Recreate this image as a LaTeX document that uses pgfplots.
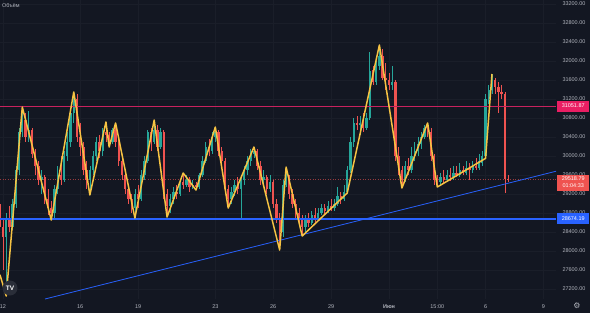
\documentclass[border=0pt]{standalone}
\usepackage{pgfplots}
\pgfplotsset{compat=1.18}
\usepackage{pgfplotstable}
\usepackage{fontspec}
\setmainfont{Liberation Sans}
\newfontfamily\symfont{DejaVu Sans}
\definecolor{bg}{HTML}{131722}
\definecolor{upc}{HTML}{26A69A}
\definecolor{dnc}{HTML}{EF5350}
\definecolor{zz}{HTML}{F6C343}
\definecolor{resl}{HTML}{C8225E}
\definecolor{resbox}{HTML}{E91E63}
\definecolor{bluel}{HTML}{2962FF}
\definecolor{tickc}{HTML}{B2B5BE}
\definecolor{gridc}{HTML}{1A1E29}
\definecolor{logoc}{HTML}{2A2E39}

\pgfplotstableread{
i o h l c
-1 29000 29150 28400 28500
0 28500 28700 27600 28300
1 28300 28800 27053 28700
2 28700 28950 28400 28500
3 28500 29100 28450 29000
4 29000 29800 28900 29700
5 29700 30600 29600 30500
6 30500 31031 30400 30750
7 30750 30900 30300 30400
8 30400 30950 30300 30550
9 30550 30600 29950 30050
10 30050 30150 29600 29800
11 29800 29900 29400 29500
12 29500 29700 29200 29550
13 29550 29600 29000 29100
14 29100 29300 28750 28900
15 28900 29050 28653 28800
16 28800 29400 28700 29300
17 29300 29800 29200 29600
18 29600 30000 29400 29500
19 29500 30100 29450 30000
20 30000 30500 29900 30300
21 30300 31000 30200 30900
22 30900 31347 30700 31200
23 31200 31300 30300 30400
24 30400 30700 30000 30200
25 30200 30300 29600 29700
26 29700 29900 29300 29500
27 29500 29800 29179 29700
28 29700 30100 29600 30000
29 30000 30400 29900 30300
30 30300 30450 29950 30100
31 30100 30600 30000 30500
32 30500 30716 30300 30450
33 30450 30500 30189 30300
34 30300 30600 30250 30550
35 30550 30695 30200 30300
36 30300 30350 29800 29900
37 29900 30000 29500 29600
38 29600 29700 29200 29300
39 29300 29400 29000 29100
40 29100 29200 28800 28900
41 28900 29300 28695 29200
42 29200 29400 28900 29100
43 29100 29700 29050 29600
44 29600 30000 29500 29900
45 29900 30550 29850 30500
46 30500 30600 30100 30300
47 30300 30758 30250 30550
48 30550 30650 30100 30200
49 30200 30600 30150 30500
50 30500 30550 29100 29200
51 29200 29300 28716 28950
52 28950 29200 28800 29100
53 29100 29350 29000 29250
54 29250 29400 29100 29200
55 29200 29500 29150 29450
56 29450 29642 29300 29400
57 29400 29600 29350 29500
58 29500 29550 29250 29350
59 29350 29500 29300 29400
60 29400 29450 29284 29350
61 29350 29650 29300 29600
62 29600 30000 29550 29900
63 29900 30300 29850 30200
64 30200 30350 30000 30100
65 30100 30500 30050 30400
66 30400 30610 30300 30500
67 30500 30550 30000 30100
68 30100 30200 29800 29900
69 29900 29950 29200 29300
70 29300 29400 28905 29100
71 29100 29350 29000 29250
72 29250 29500 29150 29400
73 29400 29550 29200 29300
74 29300 29600 28700 29500
75 29500 29800 29400 29700
76 29700 30000 29600 29900
77 29900 30150 29800 30050
78 30050 30189 29950 30100
79 30100 30150 29700 29800
80 29800 29900 29400 29500
81 29500 29700 29400 29550
82 29550 29600 29200 29300
83 29300 29600 29250 29450
84 29450 29500 28900 29000
85 29000 29100 28600 28700
86 28700 28800 28021 28400
87 28400 29500 28300 29400
88 29400 29768 29350 29500
89 29500 29600 29100 29200
90 29200 29300 28900 29000
91 29000 29100 28700 28800
92 28800 28900 28550 28650
93 28650 28750 28316 28500
94 28500 28750 28400 28650
95 28650 28800 28500 28600
96 28600 28850 28550 28750
97 28750 28900 28600 28700
98 28700 28900 28650 28800
99 28800 29000 28750 28900
100 28900 29000 28750 28850
101 28850 29050 28800 28950
102 28950 29100 28850 28900
103 28900 29100 28850 29000
104 29000 29350 28950 29150
105 29150 29250 29000 29100
106 29100 29400 29050 29250
107 29250 29800 29221 29700
108 29700 30400 29650 30300
109 30300 30800 30200 30700
110 30700 30850 30550 30650
111 30650 30850 30450 30700
112 30700 30905 30500 30600
113 30600 30900 30550 30800
114 30800 32190 30750 31800
115 31800 31900 31500 31550
116 31550 32000 31500 31900
117 31900 32337 31800 32100
118 32100 32250 31600 31650
119 31650 31950 31400 31600
120 31600 31750 31400 31500
121 31500 31900 31400 31550
122 31550 31600 29900 30000
123 30000 30200 29600 29700
124 29700 29800 29326 29500
125 29500 29900 29450 29800
126 29800 29950 29600 29700
127 29700 30200 29650 30000
128 30000 30300 29900 30100
129 30100 30400 30000 30250
130 30250 30500 30150 30400
131 30400 30650 30350 30600
132 30600 30695 30400 30500
133 30500 30600 29900 30000
134 30000 30050 29400 29500
135 29500 29600 29347 29450
136 29450 29650 29380 29550
137 29550 29700 29420 29500
138 29500 29700 29450 29600
139 29600 29750 29480 29550
140 29550 29800 29500 29650
141 29650 29800 29550 29600
142 29600 29850 29550 29700
143 29700 29800 29600 29650
144 29650 29900 29600 29750
145 29750 29850 29500 29700
146 29700 29900 29650 29800
147 29800 29950 29700 29750
148 29750 30050 29700 29900
149 29850 30100 29800 30000
150 30000 31300 29950 31200
151 31200 31500 31100 31400
152 31400 31726 31300 31600
153 31600 31650 31300 31450
154 31450 31550 30900 31350
155 31350 31500 31200 31300
156 31300 31347 29221 29520
157 29520 29600 29450 29519
}\candles

\begin{document}
\begin{tikzpicture}[x=1bp,y=1bp]
\fill[bg] (0,-14) rectangle (590,299);
\begin{axis}[
  at={(0,0)}, anchor=south west,
  width=556bp, height=299bp, scale only axis,
  xmin=-0.93, xmax=171.9, ymin=26990, ymax=33284,
  axis line style={draw=none}, major tick length=0pt,
  scaled y ticks=false,
  ytick={27200,27600,...,33200}, yticklabel pos=right,
  xtick={0,24,42,66,84,102,120,135,150,168},
  xticklabels={12,16,19,23,26,29,\textbf{Июн},15:00,6,9},
  grid=major, grid style={gridc, line width=0.5bp},
  ticklabel style={font=\fontsize{5.5}{6}\selectfont, text=tickc},
  yticklabel style={anchor=west, xshift=3bp, /pgf/number format/.cd, fixed, fixed zerofill, precision=2, 1000 sep={}, assume math mode=true},
  xticklabel style={yshift=-2bp},
  candle/.style={draw=none, mark=none},
]
\addplot[dnc!60!bg, line width=0.5bp, dash pattern=on 1bp off 1.5bp] coordinates {(-0.93,29518.79) (171.9,29518.79)};
% wicks
\addplot[candle, restrict expr to domain={\thisrow{c}-\thisrow{o}}{0:100000},
  error bars/.cd, y dir=both, y explicit, error mark=none, error bar style={line width=0.7bp, draw=upc}]
  table[x=i, y expr={(\thisrow{h}+\thisrow{l})/2}, y error expr={(\thisrow{h}-\thisrow{l})/2}] {\candles};
\addplot[candle, restrict expr to domain={\thisrow{o}-\thisrow{c}}{1:100000},
  error bars/.cd, y dir=both, y explicit, error mark=none, error bar style={line width=0.7bp, draw=dnc}]
  table[x=i, y expr={(\thisrow{h}+\thisrow{l})/2}, y error expr={(\thisrow{h}-\thisrow{l})/2}] {\candles};
% bodies
\addplot[candle, restrict expr to domain={\thisrow{c}-\thisrow{o}}{0:100000},
  error bars/.cd, y dir=both, y explicit, error mark=none, error bar style={line width=2.3bp, draw=upc}]
  table[x=i, y expr={(\thisrow{o}+\thisrow{c})/2}, y error expr={max(abs(\thisrow{c}-\thisrow{o})/2,6)}] {\candles};
\addplot[candle, restrict expr to domain={\thisrow{o}-\thisrow{c}}{1:100000},
  error bars/.cd, y dir=both, y explicit, error mark=none, error bar style={line width=2.3bp, draw=dnc}]
  table[x=i, y expr={(\thisrow{o}+\thisrow{c})/2}, y error expr={max(abs(\thisrow{c}-\thisrow{o})/2,6)}] {\candles};
% drawings
\addplot[resl, line width=1bp] coordinates {(-0.93,31051.87) (171.9,31051.87)};
\addplot[bluel, line width=1.3bp] coordinates {(-0.93,28674.19) (171.9,28674.19)};
\addplot[bluel, line width=0.8bp] coordinates {(13.06,26990) (172.2,29684)};
\addplot[zz, line width=1.5bp, line join=round] coordinates {
(-0.93,27500) (1,27053) (6,31031) (15,28653) (22,31347) (27,29179) (32,30716) (33,30189) (35,30695) (41,28695) (47,30758) (51,28716) (56,29642) (60,29284) (66,30610) (70,28905) (78,30189) (86,28021) (88,29768) (93,28316) (107,29221) (117,32337) (124,29326) (132,30695) (135,29347) (150,29950) (152,31726)};
\coordinate (b1) at (axis cs:171.9,31051.87);
\coordinate (b2) at (axis cs:171.9,29518.79);
\coordinate (b3) at (axis cs:171.9,28674.19);
\end{axis}
\node[fill=resbox, text=white, anchor=west, inner sep=0pt, minimum height=11bp, minimum width=32bp, font=\fontsize{5.5}{6}\selectfont] at ([xshift=1bp]b1) {31051.87};
\node[fill=dnc, text=white, anchor=north west, inner sep=0pt, minimum height=16bp, minimum width=32bp, align=center, font=\fontsize{5.5}{7}\selectfont] at ([xshift=1bp,yshift=4.5bp]b2) {29518.79\\01:04:33};
\node[fill=bluel, text=white, anchor=west, inner sep=0pt, minimum height=11bp, minimum width=32bp, font=\fontsize{5.5}{6}\selectfont] at ([xshift=1bp]b3) {28674.19};
\node[anchor=west, text=tickc, font=\fontsize{5.5}{6}\selectfont, inner sep=0pt] at (2,293) {Объём};
\fill[logoc] (10,11) circle (7.5);
\node[text=white, font=\bfseries\fontsize{6.5}{7}\selectfont, inner sep=0pt] at (10,11) {TV};
\node[text=tickc, font=\symfont\fontsize{8}{8}\selectfont, inner sep=0pt] at (577,-7) {⚙};
\pgfresetboundingbox
\path[use as bounding box] (0,-14) rectangle (590,299);
\end{tikzpicture}
\end{document}
